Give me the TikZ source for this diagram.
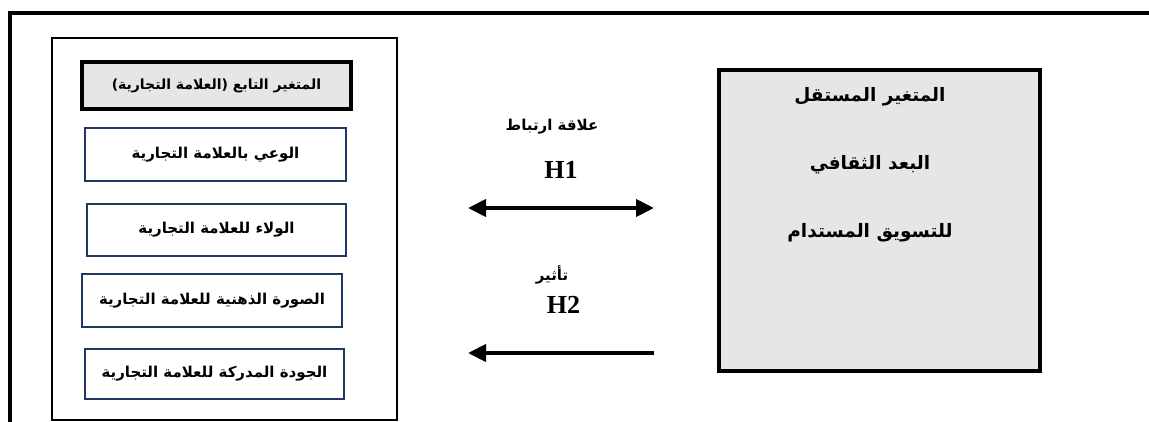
\documentclass[tikz,border=0pt]{standalone}
\usepackage{fontspec}
\usetikzlibrary{arrows.meta}
\TeXXeTstate=1
\newfontfamily\arabicfont[Script=Arabic]{DejaVu Sans}
\newfontfamily\latinserif{Liberation Serif}
\definecolor{navy}{HTML}{1F3864}
\definecolor{boxgray}{HTML}{E6E6E6}
\tikzset{
  frame/.style={line width=3.5pt},
  container/.style={draw, line width=2pt, inner sep=0pt},
  head/.style={draw, fill=boxgray, line width=4pt, inner sep=0pt, font=\arabicfont\bfseries\fontsize{14}{16}\selectfont},
  dim/.style={draw=navy, line width=2pt, inner sep=0pt, font=\arabicfont\bfseries\fontsize{15}{17}\selectfont},
  indep/.style={draw, fill=boxgray, line width=4pt, inner sep=0pt},
  indeptext/.style={font=\arabicfont\bfseries\fontsize{18.5}{21}\selectfont},
  rellabel/.style={font=\arabicfont\bfseries\fontsize{15}{17}\selectfont},
  hlabel/.style={font=\latinserif\bfseries\fontsize{26}{28}\selectfont},
  bigarrow/.style={line width=4pt, {Triangle[length=18pt,width=17pt]}-{Triangle[length=18pt,width=17pt]}},
  onearrow/.style={line width=4pt, {Triangle[length=18pt,width=17pt]}-},
}
\begin{document}
\begin{tikzpicture}[x=1pt,y=-1pt]
\useasboundingbox (0,0) rectangle (1149,421);
% outer frame (top and left edges only visible)
\draw[frame] (10,423) -- (10,13) -- (1151,13);
% left container
\node[container, minimum width=345pt, minimum height=382pt] (cont) at (224.5,229) {};
\node[head, minimum width=269pt, minimum height=47pt] (dep) at (216.5,85.5) {\beginR المتغير التابع (العلامة التجارية)\endR};
\node[dim, minimum width=261pt, minimum height=53pt] (d1) at (215.5,154.5) {\beginR الوعي بالعلامة التجارية\endR};
\node[dim, minimum width=259pt, minimum height=52pt] (d2) at (216.5,230) {\beginR الولاء للعلامة التجارية\endR};
\node[dim, minimum width=260pt, minimum height=53pt] (d3) at (212,300.5) {\beginR الصورة الذهنية للعلامة التجارية\endR};
\node[dim, minimum width=259pt, minimum height=50pt] (d4) at (214.5,374) {\beginR الجودة المدركة للعلامة التجارية\endR};
% right box
\node[indep, minimum width=321pt, minimum height=301pt] (ind) at (879.5,220.5) {};
\node[indeptext] (t1) at (870,97) {\beginR المتغير المستقل\endR};
\node[indeptext] (t2) at (870,165) {\beginR البعد الثقافي\endR};
\node[indeptext] (t3) at (870,233) {\beginR للتسويق المستدام\endR};
% relations
\node[rellabel] (r1) at (552,127) {\beginR علاقة ارتباط\endR};
\node[hlabel] (h1) at (561,169.5) {H1};
\node[rellabel] (r2) at (552,275) {\beginR تأثير\endR};
\node[hlabel] (h2) at (563.5,304.5) {H2};
\coordinate (a1l) at (468,208);
\coordinate (a1r) at (654,208);
\coordinate (a2l) at (468,353);
\coordinate (a2r) at (654,353);
\draw[bigarrow] (a1l) -- (a1r);
\draw[onearrow] (a2l) -- (a2r);
\end{tikzpicture}
\end{document}
